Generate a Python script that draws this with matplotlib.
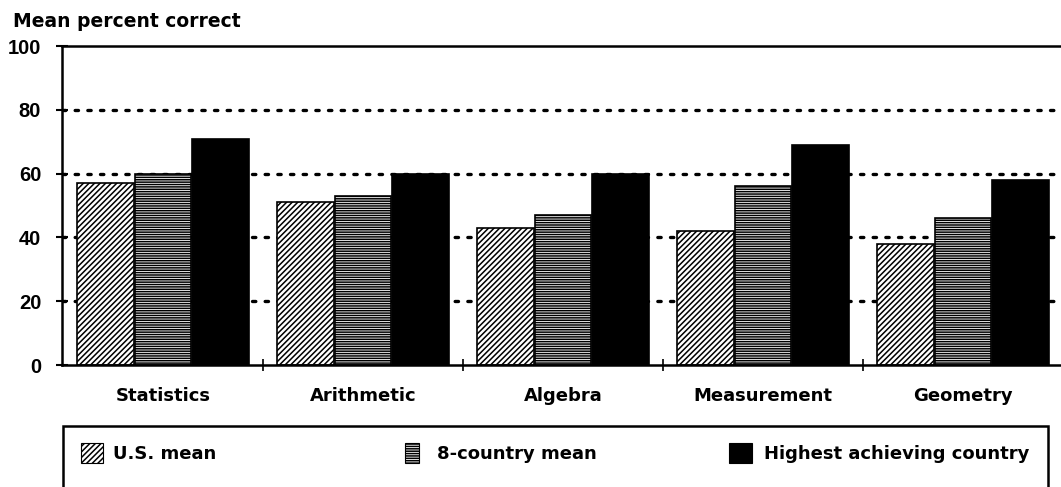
import matplotlib.pyplot as plt
import numpy as np
from matplotlib.patches import Rectangle

plt.rcParams['font.family'] = ['DejaVu Sans']
plt.rcParams['font.weight'] = 'bold'
plt.rcParams['hatch.linewidth'] = 1.1

# Topics and mean percent correct per group
topics = ['Statistics', 'Arithmetic', 'Algebra', 'Measurement', 'Geometry']
series_names = ['U.S. mean', '8-country mean', 'Highest achieving country']
us_mean = [57, 51, 43, 42, 38]
eight_country_mean = [60, 53, 47, 56, 46]
highest_country = [71, 60, 60, 69, 58]
y_ticks = [0, 20, 40, 60, 80, 100]

values = [us_mean, eight_country_mean, highest_country]
hatches = ['//////', '-------', None]
fills = ['white', 'white', 'black']

fig = plt.figure(figsize=(10.61, 4.87), dpi=100)
ax = fig.add_axes([0.0584, 0.2505, 0.9416, 0.655])

x = np.arange(len(topics))
width = 0.283
offsets = [-0.288, 0.0, 0.288]

# dotted gridlines sit behind the bars
for level in y_ticks[1:-1]:
    ax.axhline(level, color='black', linestyle=(0, (1.0, 2.8)), linewidth=2.4,
               dash_capstyle='round', zorder=0)

for vals, off, h, fc in zip(values, offsets, hatches, fills):
    ax.bar(x + off, vals, width, color=fc, edgecolor='black', hatch=h,
           linewidth=1.2, zorder=2)

ax.set_xlim(-0.505, 4.49)
ax.set_ylim(0, 100)
ax.set_yticks(y_ticks)
ax.set_yticklabels([str(t) for t in y_ticks], fontsize=14.5, fontweight='bold',
                   family=['Liberation Sans', 'DejaVu Sans'])
ax.tick_params(axis='y', direction='inout', length=8, width=1.5, pad=11)

# group separators as ticks on the baseline, topic names underneath
ax.set_xticks(x[:-1] + 0.5)
ax.set_xticklabels([])
ax.tick_params(axis='x', direction='inout', length=8, width=1.2)
for xi, name in zip(x, topics):
    ax.text(xi, -7.0, name, ha='center', va='top', fontsize=13, fontweight='bold',
            clip_on=False)

for side in ['left', 'bottom', 'top']:
    ax.spines[side].set_linewidth(1.8)
ax.spines['right'].set_visible(False)

fig.text(0.012, 0.975, 'Mean percent correct', ha='left', va='top',
         fontsize=13.5, fontweight='bold')

# legend box along the bottom
fig.patches.append(Rectangle((0.0594, -0.05), 0.928, 0.175, transform=fig.transFigure,
                             facecolor='none', edgecolor='black', linewidth=1.8))
key_x = [0.0763, 0.3817, 0.687]
key_w = [0.0207, 0.0132, 0.0217]
key_gap = [0.0094, 0.017, 0.011]
for kx, kw, kg, name, h, fc in zip(key_x, key_w, key_gap, series_names, hatches, fills):
    fig.patches.append(Rectangle((kx, 0.049), kw, 0.041, transform=fig.transFigure,
                                 facecolor=fc, edgecolor='black', hatch=h, linewidth=0.8))
    fig.text(kx + kw + kg, 0.068, name, ha='left', va='center',
             fontsize=13, fontweight='bold')

fig.savefig('out.png', dpi=100)
